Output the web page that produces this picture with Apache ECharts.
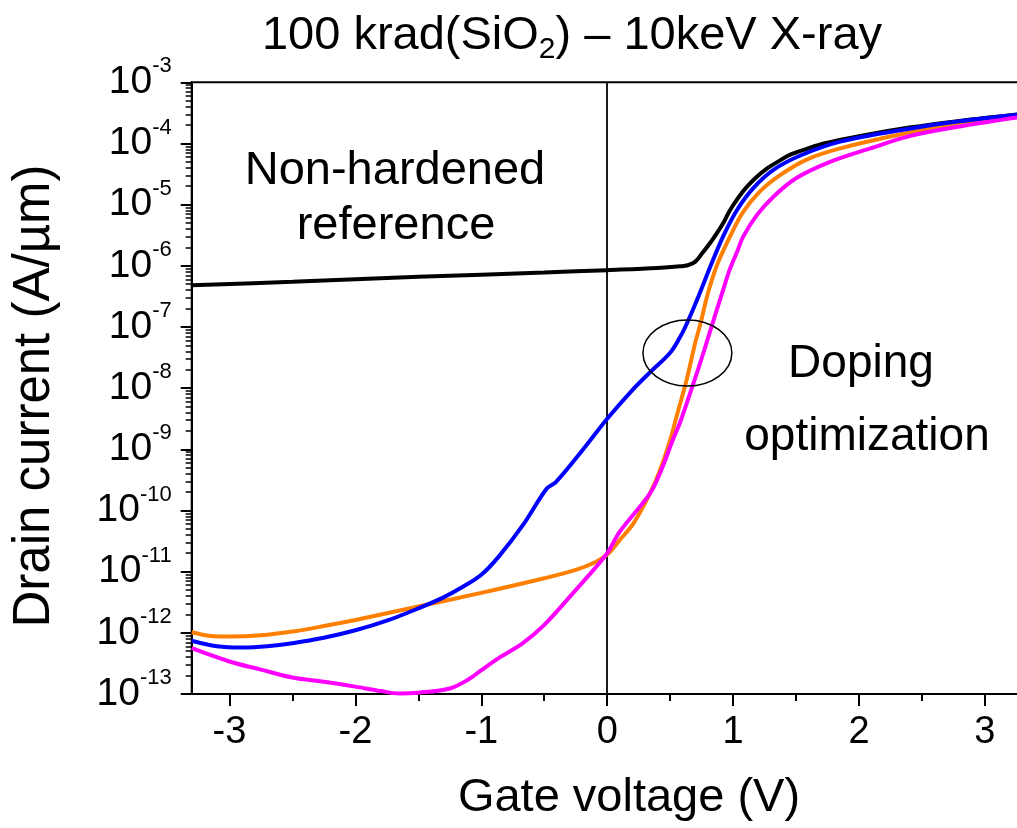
<!DOCTYPE html>
<html>
<head>
<meta charset="utf-8">
<script src="https://cdn.jsdelivr.net/npm/echarts@6/dist/echarts.min.js"></script>
<style>
html, body { margin: 0; padding: 0; background: #fff; }
#chart { width: 1017px; height: 828px; }
</style>
</head>
<body>
<div id="chart"></div>
<script>
// 栅压 (V) / 漏电流 (A/um)
var refVg = [-3.3, -2.5, -1.5, -0.5, 0.0, 0.4, 0.58, 0.64, 0.70, 0.76, 0.82, 0.87, 0.93, 0.975, 1.04, 1.1, 1.18, 1.27, 1.36, 1.45, 1.58, 1.72, 2.0, 2.4, 2.8, 3.3]
var refId = [4.79e-7, 5.5e-7, 6.6e-7, 7.76e-7, 8.5e-7, 9.2e-7, 9.8e-7, 1.02e-6, 1.17e-6, 1.66e-6, 2.4e-6, 3.39e-6, 5.37e-6, 8.1e-6, 1.29e-5, 1.86e-5, 2.75e-5, 3.9e-5, 5.1e-5, 6.5e-5, 8.1e-5, 1.0e-4, 1.32e-4, 1.82e-4, 2.34e-4, 3.05e-4]

var blueVg = [-3.3, -3.1, -2.9, -2.7, -2.5, -2.25, -2.0, -1.75, -1.5, -1.3, -1.15, -1.0, -0.86, -0.67, -0.48, -0.41, -0.2, 0.0, 0.2, 0.35, 0.5, 0.58, 0.62, 0.68, 0.735, 0.82, 0.92, 1.03, 1.16, 1.32, 1.53, 1.85, 2.4, 2.8, 3.3]
var blueId = [7.41e-13, 6.03e-13, 5.75e-13, 6.03e-13, 6.76e-13, 8.3e-13, 1.1e-12, 1.58e-12, 2.51e-12, 3.8e-12, 5.6e-12, 8.9e-12, 1.78e-11, 5.75e-11, 2.29e-10, 2.88e-10, 9.5e-10, 3.16e-9, 9.3e-9, 1.9e-8, 3.8e-8, 6.9e-8, 1.0e-7, 1.9e-7, 3.55e-7, 9.8e-7, 3.0e-6, 8.1e-6, 1.86e-5, 3.7e-5, 6.3e-5, 1.07e-4, 1.74e-4, 2.3e-4, 3.0e-4]

var orangeVg = [-3.3, -3.15, -3.0, -2.75, -2.5, -2.25, -2.0, -1.5, -1.0, -0.5, -0.25, -0.1, 0.0, 0.1, 0.21, 0.34, 0.42, 0.5, 0.55, 0.63, 0.70, 0.74, 0.80, 0.87, 0.975, 1.08, 1.21, 1.37, 1.58, 1.85, 2.4, 2.8, 3.3]
var orangeId = [1.02e-12, 8.9e-13, 8.7e-13, 9.1e-13, 1.05e-12, 1.29e-12, 1.62e-12, 2.7e-12, 4.5e-12, 7.8e-12, 1.07e-11, 1.41e-11, 1.9e-11, 3.3e-11, 6.2e-11, 1.9e-10, 4.6e-10, 1.41e-9, 3.4e-9, 1.35e-8, 5.6e-8, 1.12e-7, 3.55e-7, 1.0e-6, 3.0e-6, 7.6e-6, 1.62e-5, 3.0e-5, 5.4e-5, 8.3e-5, 1.51e-4, 2.09e-4, 2.85e-4]

var pinkVg = [-3.3, -3.0, -2.75, -2.5, -2.25, -2.0, -1.8, -1.65, -1.5, -1.25, -1.1, -1.0, -0.85, -0.67, -0.5, -0.27, -0.1, 0.0, 0.1, 0.34, 0.43, 0.52, 0.58, 0.68, 0.76, 0.82, 0.92, 0.975, 1.03, 1.08, 1.19, 1.32, 1.5, 1.77, 2.09, 2.4, 2.8, 3.3]
var pinkId = [5.6e-13, 3.4e-13, 2.5e-13, 1.86e-13, 1.58e-13, 1.32e-13, 1.12e-13, 1.02e-13, 1.05e-13, 1.23e-13, 1.74e-13, 2.45e-13, 4.0e-13, 6.8e-13, 1.35e-12, 4.5e-12, 1.12e-11, 2.0e-11, 4.5e-11, 1.9e-10, 4.6e-10, 1.41e-9, 2.8e-9, 1.12e-8, 3.55e-8, 8.9e-8, 4.0e-7, 8.9e-7, 1.66e-6, 3.0e-6, 6.8e-6, 1.35e-5, 2.7e-5, 5.0e-5, 8.3e-5, 1.32e-4, 1.9e-4, 2.75e-4]

// 刻度
var xMajor = [-3, -2, -1, 0, 1, 2, 3]
var xMinor = [-2.5, -1.5, -0.5, 0.5, 1.5, 2.5]
var yMajor = [1e-13, 1e-12, 1e-11, 1e-10, 1e-9, 1e-8, 1e-7, 1e-6, 1e-5, 1e-4, 1e-3]
var yMinor = []
for (var d = 0; d < yMajor.length - 1; d++) {
    for (var k = 2; k <= 9; k++) {
        yMinor.push(+(k * yMajor[d]).toPrecision(3))
    }
}

// 椭圆标注 (V, A/um)
var ringCenter = [0.637, 3.76e-8]
var ringHalfWidth = 0.353
var ringTop = 1.3e-7
var ringBottom = 1.08e-8

var FONT = "'Liberation Sans', Arial, Helvetica, sans-serif"

function pairs(xs, ys) {
    return xs.map(function (v, i) { return [v, ys[i]] })
}

function curve(name, color, xs, ys) {
    return {
        name: name,
        type: 'line',
        data: pairs(xs, ys),
        showSymbol: false,
        smooth: 0.35,
        clip: true,
        lineStyle: { color: color, width: 4 },
        itemStyle: { color: color },
        z: 3
    }
}

var chart = echarts.init(document.getElementById('chart'), null, { renderer: 'canvas' })

var refSeries = curve('reference', '#000000', refVg, refId)
refSeries.markLine = {
    silent: true,
    symbol: ['none', 'none'],
    label: { show: false },
    lineStyle: { color: '#000', width: 1.8, type: 'solid' },
    data: [{ xAxis: 0 }],
    z: 2
}

var option = {
    animation: false,
    backgroundColor: '#fff',
    grid: {
        left: 191.7,
        top: 82.3,
        width: 831,
        height: 611.7,
        show: true,
        borderColor: '#000',
        borderWidth: 2,
        outerBoundsMode: 'none',
        containLabel: false
    },
    xAxis: [{
        type: 'value',
        min: -3.3,
        max: 3.3,
        axisLine: { show: true, onZero: false, lineStyle: { color: '#000', width: 2 } },
        axisTick: { show: true, length: 12, customValues: xMajor, lineStyle: { color: '#000', width: 2 } },
        axisLabel: { customValues: xMajor, color: '#000', fontSize: 38, fontFamily: FONT, margin: 20 },
        splitLine: { show: false }
    }, {
        type: 'value',
        position: 'bottom',
        min: -3.3,
        max: 3.3,
        axisLine: { show: false, onZero: false },
        axisTick: { show: true, length: 7, customValues: xMinor, lineStyle: { color: '#000', width: 2 } },
        axisLabel: { show: false },
        splitLine: { show: false }
    }],
    yAxis: [{
        type: 'log',
        logBase: 10,
        min: 1e-13,
        max: 1e-3,
        axisLine: { show: true, onZero: false, lineStyle: { color: '#000', width: 2 } },
        axisTick: { show: true, length: 11, customValues: yMajor, lineStyle: { color: '#000', width: 2 } },
        axisLabel: {
            customValues: yMajor,
            margin: 20,
            formatter: function (v) {
                return '{b|10}{s|' + Math.round(Math.log10(v)) + '}'
            },
            rich: {
                b: { fontSize: 39, fontFamily: FONT, color: '#000', lineHeight: 54 },
                s: { fontSize: 22, fontFamily: FONT, color: '#000', lineHeight: 22, verticalAlign: 'top' }
            }
        },
        splitLine: { show: false }
    }, {
        type: 'log',
        logBase: 10,
        position: 'left',
        min: 1e-13,
        max: 1e-3,
        axisLine: { show: false, onZero: false },
        axisTick: { show: true, length: 6, customValues: yMinor, lineStyle: { color: '#000', width: 1.5 } },
        axisLabel: { show: false },
        splitLine: { show: false }
    }],
    series: [
        refSeries,
        curve('orange', '#ff8000', orangeVg, orangeId),
        curve('blue', '#0000ff', blueVg, blueId),
        curve('magenta', '#ff00ff', pinkVg, pinkId),
        {
            type: 'custom',
            silent: true,
            z: 4,
            data: [ringCenter],
            renderItem: function (params, api) {
                var c = api.coord([api.value(0), api.value(1)])
                var l = api.coord([api.value(0) - ringHalfWidth, api.value(1)])
                var r = api.coord([api.value(0) + ringHalfWidth, api.value(1)])
                var t = api.coord([api.value(0), ringTop])
                var b = api.coord([api.value(0), ringBottom])
                return {
                    type: 'ellipse',
                    shape: { cx: c[0], cy: (t[1] + b[1]) / 2, rx: (r[0] - l[0]) / 2, ry: (b[1] - t[1]) / 2 },
                    style: { fill: 'none', stroke: '#000', lineWidth: 1.5 }
                }
            }
        }
    ],
    graphic: [{
        type: 'text', x: 572, y: 36,
        style: {
            text: '{m|100 krad(SiO}{sub|2}{m|) – 10keV X-ray}',
            fill: '#000', align: 'center', verticalAlign: 'middle',
            rich: {
                m: { fontSize: 47, fontFamily: FONT, lineHeight: 50 },
                sub: { fontSize: 30, fontFamily: FONT, lineHeight: 30, padding: [28, 0, 0, 0] }
            }
        }
    }, {
        type: 'text', x: 35, y: 396, rotation: Math.PI / 2,
        style: { text: 'Drain current (A/µm)', font: '51px ' + FONT, fill: '#000', align: 'center', verticalAlign: 'middle' }
    }, {
        type: 'text', x: 629, y: 798,
        style: { text: 'Gate voltage (V)', font: '47px ' + FONT, fill: '#000', align: 'center', verticalAlign: 'middle' }
    }, {
        type: 'text', x: 395, y: 171,
        style: { text: 'Non-hardened', font: '47px ' + FONT, fill: '#000', align: 'center', verticalAlign: 'middle' }
    }, {
        type: 'text', x: 396, y: 226,
        style: { text: 'reference', font: '47px ' + FONT, fill: '#000', align: 'center', verticalAlign: 'middle' }
    }, {
        type: 'text', x: 861, y: 364,
        style: { text: 'Doping', font: '46px ' + FONT, fill: '#000', align: 'center', verticalAlign: 'middle' }
    }, {
        type: 'text', x: 867, y: 437,
        style: { text: 'optimization', font: '46px ' + FONT, fill: '#000', align: 'center', verticalAlign: 'middle' }
    }]
}

chart.setOption(option)
</script>
</body>
</html>
